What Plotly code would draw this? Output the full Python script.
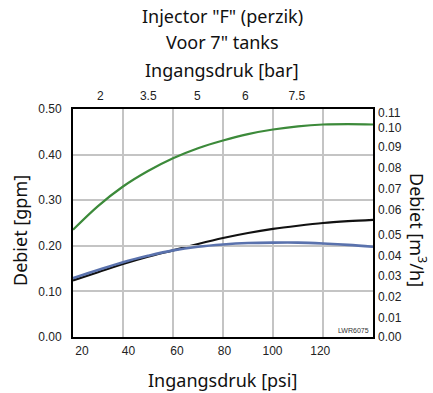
import plotly.graph_objects as go

# ---------------- data ----------------
PSI = [20, 30, 40, 50, 60, 70, 80, 90, 100, 110, 120, 130, 140]
GREEN_GPM = [0.235, 0.287, 0.330, 0.364, 0.392, 0.414, 0.431, 0.445, 0.455, 0.462, 0.466, 0.467, 0.466]
BLACK_GPM = [0.124, 0.142, 0.160, 0.176, 0.190, 0.204, 0.217, 0.228, 0.237, 0.244, 0.250, 0.254, 0.257]
BLUE_GPM = [0.129, 0.147, 0.164, 0.178, 0.190, 0.198, 0.203, 0.206, 0.207, 0.207, 0.205, 0.202, 0.198]

PSI_LABELS = ["20", "40", "60", "80", "100", "120"]
PSI_LABEL_AT = [23.6, 42.2, 61.6, 80.6, 99.8, 118.9]
BAR_LABELS = ["2", "3.5", "5", "6", "7.5"]
BAR_LABEL_AT = [30.9, 50.1, 69.7, 88.9, 109.5]
GPM_TICKS = [0.0, 0.1, 0.2, 0.3, 0.4, 0.5]
GPM_LABELS = ["0.00", "0.10", "0.20", "0.30", "0.40", "0.50"]
M3H_LABELS = ["0.11", "0.10", "0.09", "0.08", "0.07", "0.06", "0.05", "0.04", "0.03", "0.02", "0.01", "0.00"]
M3H_LABEL_AT = [0.4925, 0.4583, 0.4167, 0.3706, 0.3246, 0.2792, 0.2243, 0.1783, 0.1344, 0.0890, 0.0430, 0.0013]
PSI_GRID = [40, 60, 80, 100, 120]

TITLE1 = 'Injector "F" (perzik)'
TITLE2 = 'Voor 7" tanks'
X_TOP_TITLE = "Ingangsdruk [bar]"
X_BOTTOM_TITLE = "Ingangsdruk [psi]"
Y_LEFT_TITLE = "Debiet [gpm]"
Y_RIGHT_TITLE = "Debiet [m<sup>3</sup>/h]"
CODE = "LWR6075"

X_RANGE = [20, 140]
Y_RANGE = [0, 0.5]

# ---------------- figure ----------------
TICK_FONT = dict(family="Liberation Sans, Arial, sans-serif", size=12, color="#222")
TITLE_FONT = dict(family="Noto Sans, sans-serif", size=18, color="#111")

fig = go.Figure()
# each series is bound to one of the overlaid (identical-range) axes so every axis is drawn
fig.add_trace(go.Scatter(x=PSI, y=GREEN_GPM, mode="lines", line=dict(color="#3c8a3a", width=2.2, shape="spline"),
                         xaxis="x3", yaxis="y", showlegend=False))
fig.add_trace(go.Scatter(x=PSI, y=BLUE_GPM, mode="lines", line=dict(color="#5a72ad", width=2.6, shape="spline"),
                         xaxis="x2", yaxis="y", showlegend=False))
fig.add_trace(go.Scatter(x=PSI, y=BLACK_GPM, mode="lines", line=dict(color="#111111", width=2.2, shape="spline"),
                         xaxis="x", yaxis="y2", showlegend=False))

fig.update_layout(
    width=433, height=393,
    margin=dict(l=73, r=60, t=109, b=56),
    paper_bgcolor="white", plot_bgcolor="rgba(0,0,0,0)",
    xaxis=dict(range=X_RANGE, tickvals=PSI_GRID, showticklabels=False, ticks="",
               showgrid=True, gridcolor="#c4c4c4", gridwidth=2, zeroline=False,
               showline=True, linecolor="black", linewidth=2, mirror=True),
    xaxis2=dict(range=X_RANGE, overlaying="x", anchor="y", side="bottom", tickvals=PSI_LABEL_AT,
                ticktext=PSI_LABELS, ticks="", showgrid=False, zeroline=False, showline=False,
                tickfont=TICK_FONT, ticklabelstandoff=5),
    xaxis3=dict(range=X_RANGE, overlaying="x", anchor="y", side="top", tickvals=BAR_LABEL_AT,
                ticktext=BAR_LABELS, ticks="", showgrid=False, zeroline=False, showline=False,
                tickfont=TICK_FONT, ticklabelstandoff=6),
    yaxis=dict(range=Y_RANGE, tickvals=GPM_TICKS, ticktext=GPM_LABELS, ticks="",
               showgrid=True, gridcolor="#c4c4c4", gridwidth=2, zeroline=False,
               showline=True, linecolor="black", linewidth=2, mirror=True,
               tickfont=TICK_FONT, ticklabelstandoff=7),
    yaxis2=dict(range=Y_RANGE, overlaying="y", anchor="x", side="right", tickvals=M3H_LABEL_AT,
                ticktext=M3H_LABELS, ticks="", showgrid=False, zeroline=False, showline=False,
                tickfont=TICK_FONT, ticklabelstandoff=4),
    annotations=[
        dict(text=TITLE1, xref="paper", yref="paper", x=0.497, y=(337 - 16) / 228, xanchor="center",
             yanchor="middle", showarrow=False, font=TITLE_FONT),
        dict(text=TITLE2, xref="paper", yref="paper", x=0.497, y=(337 - 42) / 228, xanchor="center",
             yanchor="middle", showarrow=False, font=TITLE_FONT),
        dict(text=X_TOP_TITLE, xref="paper", yref="paper", x=0.497, y=(337 - 70) / 228, xanchor="center",
             yanchor="middle", showarrow=False, font=TITLE_FONT),
        dict(text=X_BOTTOM_TITLE, xref="paper", yref="paper", x=0.497, y=(337 - 380) / 228, xanchor="center",
             yanchor="middle", showarrow=False, font=TITLE_FONT),
        dict(text=Y_LEFT_TITLE, xref="paper", yref="paper", x=(20 - 73) / 300, y=(337 - 231) / 228,
             xanchor="center", yanchor="middle", textangle=-90, showarrow=False, font=TITLE_FONT),
        dict(text=Y_RIGHT_TITLE, xref="paper", yref="paper", x=(418 - 73) / 300, y=(337 - 230) / 228,
             xanchor="center", yanchor="middle", textangle=90, showarrow=False, font=TITLE_FONT),
        dict(text=CODE, xref="paper", yref="paper", x=1, y=0, xanchor="right", yanchor="bottom",
             xshift=-2, yshift=1, showarrow=False,
             font=dict(family="Liberation Sans, Arial, sans-serif", size=7, color="#333")),
    ],
)

fig.write_html("out.html")
